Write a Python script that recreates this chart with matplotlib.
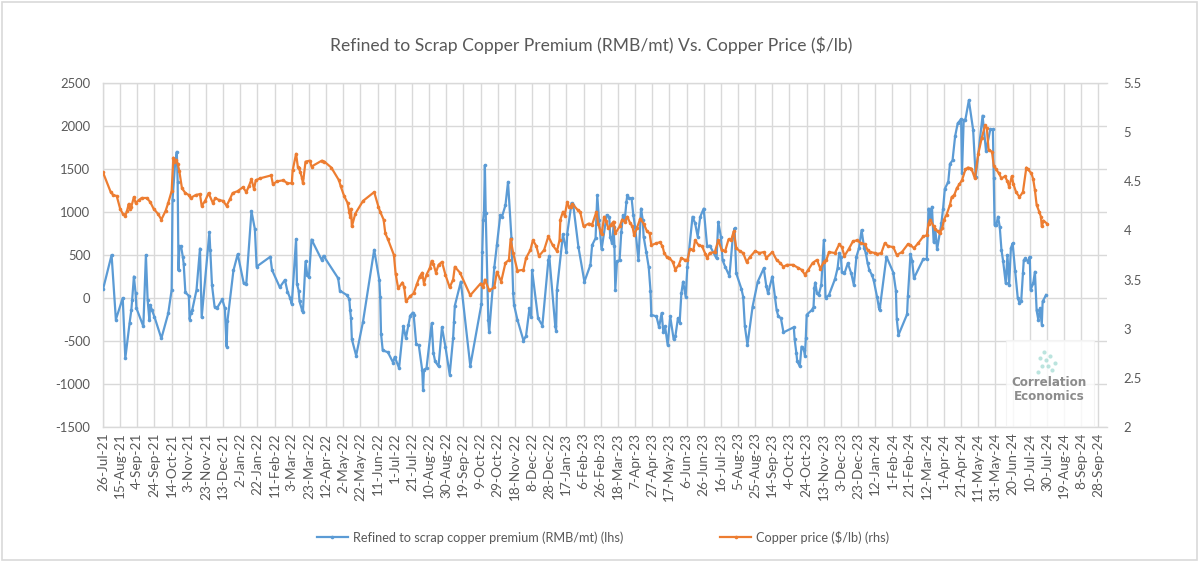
import matplotlib
matplotlib.use("Agg")
import matplotlib.pyplot as plt
from matplotlib.lines import Line2D
from matplotlib.patches import Rectangle
import pandas as pd

# ---------------- data ----------------
START_DATE = "2021-07-26"          # day 0 of the series below
LAST_TICK = "2024-09-28"
X_END_DATE = "2024-10-08"

# Refined to scrap copper premium (RMB/mt), days after START_DATE
premium_day = [
    0, 10, 15, 23, 26, 31, 33, 34, 36, 38,
    39, 47, 50, 52, 54, 55, 57, 60, 68, 76,
    80, 81, 84, 86, 87, 88, 89, 91, 93, 94,
    96, 100, 101, 102, 104, 109, 113, 115, 124, 125,
    127, 130, 133, 139, 142, 144, 145, 152, 157, 164,
    167, 173, 177, 179, 195, 197, 206, 212, 215, 218,
    220, 225, 226, 228, 229, 232, 233, 236, 238, 240,
    243, 255, 257, 274, 276, 284, 287, 288, 289, 290,
    295, 303, 316, 322, 323, 324, 326, 332, 338, 340,
    345, 350, 353, 356, 358, 361, 362, 365, 368, 372,
    373, 374, 377, 383, 385, 387, 391, 395, 399, 404,
    408, 409, 410, 417, 428, 441, 442, 443, 444, 445,
    446, 449, 450, 456, 459, 463, 465, 469, 472, 476,
    478, 479, 483, 490, 493, 497, 499, 500, 507, 512,
    519, 520, 527, 528, 529, 536, 540, 541, 546, 548,
    554, 561, 568, 570, 574, 576, 578, 581, 587, 590,
    591, 593, 595, 596, 597, 599, 602, 604, 606, 608,
    610, 611, 613, 616, 618, 620, 624, 627, 629, 630,
    633, 636, 638, 639, 645, 648, 651, 653, 655, 658,
    661, 665, 667, 670, 672, 674, 676, 679, 681, 687,
    690, 693, 696, 700, 704, 707, 715, 717, 720, 722,
    725, 730, 734, 736, 738, 744, 746, 748, 751, 757,
    763, 770, 773, 775, 780, 783, 785, 787, 790, 793,
    805, 806, 808, 809, 812, 814, 817, 818, 819, 820,
    826, 828, 829, 830, 832, 834, 837, 840, 842, 846,
    853, 856, 858, 860, 861, 864, 868, 872, 875, 878,
    881, 884, 887, 889, 891, 893, 896, 898, 902, 904,
    905, 913, 921, 924, 925, 927, 937, 938, 941, 943,
    945, 956, 960, 962, 964, 966, 968, 970, 972, 977,
    979, 981, 985, 987, 990, 993, 996, 1000, 1001, 1003,
    1005, 1009, 1014, 1017, 1025, 1029, 1034, 1037, 1038, 1039,
    1041, 1043, 1045, 1047, 1049, 1052, 1054, 1056, 1058, 1060,
    1063, 1066, 1068, 1070, 1072, 1073, 1075, 1078, 1080, 1081,
    1084, 1086, 1088, 1090, 1092, 1094, 1095, 1099,
]
premium_val = [
    100, 500, -250, 0, -700, -290, -140, -20, 250, 55,
    -120, -330, 500, -20, -250, -80, -140, -220, -470, -180,
    95, 1140, 1560, 1700, 1350, 320, 600, 600, 480, 400,
    65, 25, -250, -180, -140, 95, 575, -225, 765, 560,
    150, -100, -115, -15, -120, -565, -270, 320, 510, 170,
    165, 1010, 800, 365, 480, 325, 125, 210, 75, 0,
    -70, 685, 165, 85, -40, -140, -160, 425, 270, 240,
    680, 440, 490, 230, 85, 35, -10, -145, -235, -480,
    -670, -275, 560, 210, 15, -415, -610, -630, -750, -685,
    -815, -330, -465, -310, -205, -170, -195, -535, -550, -840,
    -1075, -835, -815, -295, -635, -735, -795, -340, -565, -890,
    -465, -280, -90, 190, -790, -70, 540, 905, 1005, 1545,
    985, -260, -400, 355, 615, 965, 945, 1080, 1350, 695,
    55, -80, -255, -495, -440, -120, -225, 325, -235, -320,
    440, 490, -325, -380, 95, 740, 540, 750, 1105, 1080,
    595, 190, 385, 615, 695, 1195, 905, 565, 965, 940,
    715, 640, 830, 600, 95, 425, 440, 770, 965, 905,
    1120, 1195, 1160, 1160, 965, 830, 440, 1040, 905, 715,
    540, 355, 85, -195, -215, -340, -175, -400, -330, -545,
    -215, -480, -445, -235, -285, 55, 190, 15, 365, 945,
    870, 715, 945, 1040, 600, 610, 460, 885, 715, 440,
    365, 255, 715, 810, 285, 105, 15, -330, -545, -100,
    190, 345, 135, 55, 250, 15, -140, -215, -235, -400,
    -340, -480, -640, -735, -795, -565, -610, -670, -465, -195,
    -140, -105, 115, 180, 55, 35, 150, 675, 0, 35,
    220, 345, 520, 480, 305, 285, 405, 285, 150, 480,
    580, 790, 580, 520, 405, 325, 270, 210, 15, -100,
    -140, 480, 295, 85, -245, -430, -190, 25, 510, 425,
    230, 455, 450, 1040, 935, 1060, 650, 790, 565, 870,
    1040, 1270, 1350, 1560, 1600, 1880, 2030, 2080, 1450, 2070,
    2075, 2300, 1955, 1410, 2120, 1710, 1960, 1960, 1390, 850,
    850, 945, 830, 560, 425, 170, 500, 150, 580, 635,
    310, 0, -55, -40, 285, 440, 460, 420, 480, 95,
    170, 305, -145, -255, -120, -310, -40, 35,
]

# Copper price ($/lb), days after START_DATE
copper_day = [
    0, 9, 12, 16, 20, 23, 26, 28, 30, 31,
    33, 36, 38, 42, 45, 51, 55, 59, 64, 68,
    73, 76, 80, 82, 83, 85, 87, 89, 92, 96,
    100, 102, 108, 113, 115, 119, 123, 128, 131, 135,
    140, 144, 148, 151, 157, 163, 167, 170, 173, 176,
    178, 183, 196, 198, 203, 210, 215, 220, 221, 225,
    227, 228, 230, 232, 233, 236, 241, 243, 255, 258,
    266, 275, 277, 281, 285, 287, 288, 289, 290, 294,
    303, 316, 321, 323, 327, 329, 332, 339, 341, 344,
    349, 351, 353, 358, 362, 366, 369, 372, 374, 377,
    381, 383, 385, 388, 391, 395, 399, 404, 408, 410,
    416, 428, 440, 443, 445, 450, 456, 459, 464, 469,
    473, 475, 478, 483, 490, 493, 498, 501, 505, 508,
    514, 519, 524, 529, 532, 533, 536, 538, 541, 543,
    545, 547, 553, 556, 560, 566, 570, 575, 577, 581,
    584, 586, 589, 592, 595, 597, 602, 605, 608, 611,
    614, 617, 619, 622, 626, 630, 634, 637, 639, 645,
    649, 652, 654, 657, 660, 664, 667, 671, 674, 678,
    681, 684, 688, 690, 694, 698, 702, 704, 707, 713,
    717, 721, 725, 729, 732, 735, 738, 742, 746, 750,
    754, 760, 765, 770, 773, 780, 785, 789, 793, 797,
    804, 810, 814, 818, 822, 827, 832, 836, 840, 843,
    846, 853, 858, 861, 864, 869, 874, 879, 883, 888,
    891, 894, 900, 902, 907, 911, 915, 921, 925, 931,
    938, 941, 945, 950, 956, 960, 962, 964, 968, 970,
    973, 975, 978, 980, 983, 987, 989, 992, 995, 998,
    1001, 1005, 1008, 1012, 1016, 1020, 1024, 1028, 1030, 1032,
    1036, 1038, 1041, 1044, 1047, 1051, 1054, 1056, 1059, 1061,
    1064, 1068, 1072, 1076, 1078, 1082, 1084, 1086, 1088, 1091,
    1093, 1094, 1096, 1100,
]
copper_val = [
    4.59, 4.39, 4.36, 4.35, 4.22, 4.17, 4.15, 4.20, 4.27, 4.22,
    4.24, 4.34, 4.28, 4.31, 4.33, 4.33, 4.29, 4.22, 4.17, 4.11,
    4.20, 4.28, 4.40, 4.74, 4.70, 4.72, 4.68, 4.60, 4.43, 4.38,
    4.36, 4.33, 4.36, 4.37, 4.25, 4.30, 4.38, 4.28, 4.33, 4.31,
    4.30, 4.25, 4.32, 4.38, 4.40, 4.44, 4.39, 4.45, 4.52, 4.42,
    4.51, 4.53, 4.56, 4.47, 4.50, 4.51, 4.48, 4.48, 4.61, 4.78,
    4.65, 4.64, 4.59, 4.53, 4.48, 4.70, 4.71, 4.65, 4.71, 4.70,
    4.64, 4.51, 4.45, 4.35, 4.28, 4.19, 4.14, 4.22, 4.04, 4.17,
    4.30, 4.39, 4.24, 4.19, 4.11, 3.97, 3.91, 3.75, 3.56, 3.41,
    3.47, 3.42, 3.28, 3.33, 3.36, 3.46, 3.53, 3.57, 3.46, 3.55,
    3.62, 3.69, 3.66, 3.57, 3.65, 3.68, 3.55, 3.42, 3.50, 3.63,
    3.57, 3.34, 3.46, 3.42, 3.50, 3.39, 3.42, 3.58, 3.48, 3.67,
    3.70, 3.91, 3.77, 3.59, 3.60, 3.72, 3.80, 3.90, 3.84, 3.74,
    3.80, 3.94, 3.85, 3.79, 3.90, 4.11, 4.19, 4.15, 4.29, 4.24,
    4.24, 4.27, 4.21, 4.19, 4.04, 4.07, 4.06, 4.19, 4.07, 3.96,
    4.14, 4.10, 4.02, 4.06, 4.09, 3.97, 4.04, 4.11, 4.09, 4.14,
    4.08, 4.04, 3.95, 4.02, 4.12, 4.07, 3.99, 3.97, 3.85, 3.87,
    3.88, 3.84, 3.77, 3.73, 3.72, 3.68, 3.60, 3.65, 3.72, 3.70,
    3.70, 3.81, 3.80, 3.90, 3.85, 3.84, 3.76, 3.72, 3.77, 3.78,
    3.90, 3.80, 3.79, 3.91, 3.90, 3.99, 3.82, 3.79, 3.77, 3.68,
    3.73, 3.79, 3.77, 3.78, 3.72, 3.78, 3.70, 3.67, 3.63, 3.65,
    3.65, 3.62, 3.60, 3.55, 3.60, 3.67, 3.70, 3.61, 3.68, 3.70,
    3.78, 3.77, 3.86, 3.83, 3.74, 3.81, 3.89, 3.90, 3.87, 3.86,
    3.80, 3.78, 3.77, 3.76, 3.77, 3.87, 3.84, 3.83, 3.75, 3.78,
    3.86, 3.85, 3.82, 3.87, 3.94, 3.95, 4.07, 4.11, 4.04, 4.01,
    3.99, 3.97, 4.02, 4.11, 4.16, 4.26, 4.34, 4.36, 4.43, 4.47,
    4.51, 4.62, 4.64, 4.63, 4.53, 4.78, 4.94, 5.07, 5.04, 4.82,
    4.80, 4.66, 4.62, 4.58, 4.53, 4.55, 4.50, 4.44, 4.55, 4.47,
    4.39, 4.34, 4.39, 4.64, 4.62, 4.58, 4.52, 4.41, 4.26, 4.19,
    4.14, 4.04, 4.10, 4.07,
]

left_ticks = [-1500, -1000, -500, 0, 500, 1000, 1500, 2000, 2500]
right_ticks = [2, 2.5, 3, 3.5, 4, 4.5, 5, 5.5]
title_text = "Refined to Scrap Copper Premium (RMB/mt) Vs. Copper Price ($/lb)"
premium_label = "Refined to scrap copper premium (RMB/mt) (lhs)"
copper_label = "Copper price ($/lb) (rhs)"

# ---------------- styling ----------------
BLUE = "#5B9BD5"
ORANGE = "#ED7D31"
TXT = "#595959"
GRID = "#D9D9D9"

plt.rcParams['font.family'] = ['Lato', 'DejaVu Sans']

W, H = 1199, 562
fig = plt.figure(figsize=(W / 100, H / 100), dpi=100)
fig.patch.set_facecolor("white")

L, R, T, B = 103, 1107, 83, 427
ax = fig.add_axes([L / W, 1 - B / H, (R - L) / W, (B - T) / H])

start = pd.Timestamp(START_DATE)
p_dates = start + pd.to_timedelta(premium_day, unit="D")
c_dates = start + pd.to_timedelta(copper_day, unit="D")

ax.plot(p_dates, premium_val, color=BLUE, lw=1.6, marker="o", ms=2.6,
        markeredgewidth=0, solid_joinstyle="round", zorder=3)
ax.set_ylim(left_ticks[0], left_ticks[-1])
ax.set_yticks(left_ticks)
ax.set_yticklabels([str(v) for v in left_ticks])

xticks = pd.date_range(start, LAST_TICK, freq="20D")
ax.set_xlim(start, pd.Timestamp(X_END_DATE))
ax.set_xticks(xticks)
ax.set_xticklabels([f"{d.day}-{d.strftime('%b-%y')}" for d in xticks],
                   rotation=90, ha="center", va="top")

ax.grid(True, color=GRID, lw=1.0)
ax.set_axisbelow(True)
for s in ["top", "left", "bottom"]:
    ax.spines[s].set_color(GRID)
    ax.spines[s].set_linewidth(1.0)
ax.spines["right"].set_visible(False)
ax.tick_params(axis="y", length=0, colors=TXT, labelsize=9.4, pad=9)
ax.tick_params(axis="x", length=0, colors=TXT, labelsize=9.8, pad=4)

ax2 = ax.twinx()
ax2.plot(c_dates, copper_val, color=ORANGE, lw=1.6, marker="o", ms=2.6,
         markeredgewidth=0, solid_joinstyle="round", zorder=3)
ax2.set_ylim(right_ticks[0], right_ticks[-1])
ax2.set_yticks(right_ticks)
ax2.set_yticklabels([f"{v:g}" for v in right_ticks])
for s in ax2.spines.values():
    s.set_visible(False)
ax2.tick_params(axis="y", length=0, colors=TXT, labelsize=9.4, pad=12)

fig.text(0.493, 1 - 45 / H, title_text, ha="center", va="center",
         fontsize=12.6, color=TXT)

handles = [
    Line2D([], [], color=BLUE, lw=1.6, marker="o", ms=2.6, markeredgewidth=0),
    Line2D([], [], color=ORANGE, lw=1.6, marker="o", ms=2.6, markeredgewidth=0),
]
fig.legend(handles, [premium_label, copper_label], loc="center",
           bbox_to_anchor=(603 / W, 1 - 537 / H), ncol=2, frameon=False,
           fontsize=9.2, labelcolor=TXT, handlelength=2.4, handletextpad=0.4,
           columnspacing=7.6, markerscale=1.0)

# watermark logo
fig.add_artist(Rectangle((1006 / W, 1 - 426 / H), 88 / W, 86 / H,
                         transform=fig.transFigure, facecolor="white",
                         edgecolor="#F2F2F2", lw=0.8, alpha=0.8, zorder=5))
dots = [(1044, 352), (1040, 358), (1046, 360), (1050, 356), (1042, 366),
        (1048, 366), (1052, 370), (1038, 372), (1055, 363)]
for (dx, dy) in dots:
    fig.add_artist(Line2D([dx / W], [1 - dy / H], transform=fig.transFigure,
                          marker="o", ms=3.0, color="#8FD3C9", alpha=0.6,
                          markeredgewidth=0, zorder=6))
fig.text(1049 / W, 1 - 382 / H, "Correlation", ha="center", va="center",
         fontsize=9.5, color="#8C8C8C", fontweight="bold",
         family=["DejaVu Sans"], fontstretch="condensed", zorder=6)
fig.text(1049 / W, 1 - 397 / H, "Economics", ha="center", va="center",
         fontsize=9.5, color="#8C8C8C", fontweight="bold",
         family=["DejaVu Sans"], fontstretch="condensed", zorder=6)

# chart border
fig.add_artist(Rectangle((2 / W, 2 / H), (W - 4) / W, (H - 4) / H,
                         transform=fig.transFigure, facecolor="none",
                         edgecolor=GRID, lw=1.2))

fig.savefig("out.png", dpi=100, facecolor="white")
